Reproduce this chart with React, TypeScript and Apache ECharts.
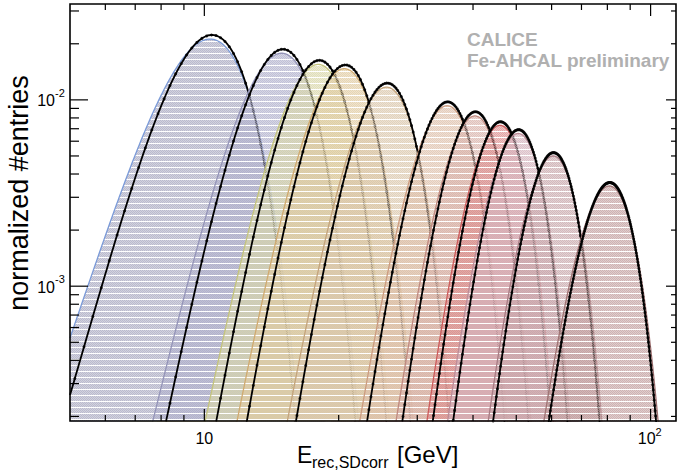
import { useEffect, useRef } from "react";
import * as echarts from "echarts";

// Beam energies (GeV) of the pion runs
const beamEnergies = [10, 15, 18, 20, 25, 35, 40, 45, 50, 60, 80];

// Gaussian fit results: mean (GeV), peak height (normalized entries), sigma (GeV)
const fitMeans = [10.4, 15.0, 18.1, 20.7, 25.7, 35.1, 40.5, 46.1, 50.6, 60.6, 81.0];
const fitPeaks = [0.0223, 0.0187, 0.0163, 0.0154, 0.0123, 0.00976, 0.00863, 0.00763, 0.00692, 0.00521, 0.0036];
const fitSigmas = [1.81, 2.24, 2.5, 2.78, 3.34, 4.25, 4.6, 5.0, 5.4, 6.3, 9.0];

// Filled reference distributions (slightly broader than the fits)
const histMeans = [10.3, 14.9, 18.0, 20.6, 25.6, 35.0, 40.4, 46.0, 50.5, 60.5, 80.8];
const histPeaks = [0.0212, 0.0178, 0.0155, 0.0147, 0.0117, 0.0093, 0.0082, 0.0073, 0.0066, 0.005, 0.00345];
const histSigmas = [1.95, 2.4, 2.68, 2.97, 3.57, 4.55, 4.92, 5.35, 5.78, 6.73, 9.6];

const fillColors = ["#a8a8c0", "#b0b0cc", "#d8d6a8", "#e0caa0", "#dac6aa", "#dec0aa", "#d8b2aa", "#dc8e8e", "#d4b2bc", "#c8a6aa", "#c29e9e"];
const edgeColors = ["#7a9ad8", "#9494b8", "#c4c47c", "#d0aa70", "#c4a47c", "#cc9c80", "#c08a80", "#cc5c5c", "#bc8c98", "#a87c84", "#a07474"];

// Axis ranges and ticks
const X_MIN = 5;
const X_MAX = 114;
const Y_MIN = 1.89e-4;
const Y_MAX = 0.0327;
const xMajorTicks = [10, 100];
const xMinorTicks = [6, 7, 8, 9, 20, 30, 40, 50, 60, 70, 80, 90];
const xTickLabels = ["10", "10"];
const xTickExponents = ["", "2"];
const yMajorTicks = [1e-3, 1e-2];
const yMinorTicks = [2e-4, 3e-4, 4e-4, 5e-4, 6e-4, 7e-4, 8e-4, 9e-4, 2e-3, 3e-3, 4e-3, 5e-3, 6e-3, 7e-3, 8e-3, 9e-3, 2e-2, 3e-2];
const yTickExponents = ["-3", "-2"];

const BIN_WIDTH = 0.25;
const FONT = "'Liberation Sans', Arial, Helvetica, sans-serif";

function gauss(x: number, mean: number, peak: number, sigma: number) {
  const d = (x - mean) / sigma;
  return peak * Math.exp(-0.5 * d * d);
}

function hexToRgba(hex: string, a: number) {
  const n = parseInt(hex.slice(1), 16);
  return `rgba(${(n >> 16) & 255},${(n >> 8) & 255},${n & 255},${a})`;
}

// Dotted fill pattern with a white line every sixth row
function makePattern(hex: string) {
  const c = document.createElement("canvas");
  c.width = 2;
  c.height = 6;
  const ctx = c.getContext("2d")!;
  for (let y = 0; y < 5; y++) {
    for (let x = 0; x < 2; x++) {
      ctx.fillStyle = (x + y) % 2 === 0 ? hexToRgba(hex, 0.78) : hexToRgba(hex, 0.52);
      ctx.fillRect(x, y, 1, 1);
    }
  }
  ctx.fillStyle = "rgba(255,255,255,0.6)";
  ctx.fillRect(0, 5, 2, 1);
  return { image: c, repeat: "repeat" as const };
}

function curve(mean: number, peak: number, sigma: number, step: number) {
  const lo = Math.max(X_MIN, mean - 4.3 * sigma);
  const hi = Math.min(X_MAX, mean + 4.3 * sigma);
  const pts: number[][] = [];
  for (let x = lo; x <= hi + 1e-9; x += step) pts.push([x, gauss(x, mean, peak, sigma)]);
  return pts;
}

function binPoints(mean: number, peak: number, sigma: number) {
  const lo = Math.max(X_MIN, mean - 4.3 * sigma);
  const hi = Math.min(X_MAX, mean + 4.3 * sigma);
  const pts: number[][] = [];
  for (let k = Math.floor(lo / BIN_WIDTH); (k + 0.5) * BIN_WIDTH <= hi; k++) {
    const x = (k + 0.5) * BIN_WIDTH;
    const y = gauss(x, mean, peak, sigma);
    if (x >= X_MIN && y >= Y_MIN) pts.push([x, y]);
  }
  return pts;
}

export default function App() {
  const ref = useRef<HTMLDivElement>(null);

  useEffect(() => {
    if (!ref.current) return;
    const chart = echarts.init(ref.current, undefined, { renderer: "svg" });

    // each energy gets its own z layer so a later fill covers earlier curves
    const series: any[] = [];
    beamEnergies.forEach((e, i) => {
      const z = 2 + i;
      series.push({
        name: `hist ${e} GeV`,
        type: "line",
        z,
        data: curve(histMeans[i], histPeaks[i], histSigmas[i], 0.05),
        showSymbol: false,
        lineStyle: { color: edgeColors[i], width: 1.3 },
        areaStyle: { color: makePattern(fillColors[i]), origin: "start", opacity: 1 },
        silent: true,
      });
      series.push({
        name: `data ${e} GeV`,
        type: "scatter",
        z,
        data: binPoints(fitMeans[i], fitPeaks[i], fitSigmas[i]),
        symbol: "circle",
        symbolSize: 3,
        itemStyle: { color: "#000" },
        silent: true,
      });
      series.push({
        name: `fit ${e} GeV`,
        type: "line",
        z,
        data: curve(fitMeans[i], fitPeaks[i], fitSigmas[i], 0.05),
        showSymbol: false,
        lineStyle: { color: "#000", width: 1.8 },
        silent: true,
      });
    });

    chart.setOption({
      animation: false,
      grid: { left: 70, top: 4, right: 2, bottom: 50, containLabel: false },
      xAxis: {
        type: "log",
        logBase: 10,
        min: X_MIN,
        max: X_MAX,
        axisLine: { show: false },
        axisTick: { show: false },
        axisLabel: { show: false },
        splitLine: { show: false },
      },
      yAxis: {
        type: "log",
        logBase: 10,
        min: Y_MIN,
        max: Y_MAX,
        axisLine: { show: false },
        axisTick: { show: false },
        axisLabel: { show: false },
        splitLine: { show: false },
      },
      series,
    });

    const px = (x: number, y: number) => chart.convertToPixel({ gridIndex: 0 }, [x, y]) as number[];
    const [left, top] = px(X_MIN, Y_MAX);
    const [right, bottom] = px(X_MAX, Y_MIN);
    const g: any[] = [];
    const tick = (x1: number, y1: number, x2: number, y2: number) =>
      g.push({ type: "line", z: 100, shape: { x1, y1, x2, y2 }, style: { stroke: "#000", lineWidth: 1.2 } });

    xMajorTicks.forEach((v) => {
      const x = px(v, Y_MIN)[0];
      tick(x, bottom, x, bottom - 12);
      tick(x, top, x, top + 12);
    });
    xMinorTicks.forEach((v) => {
      const x = px(v, Y_MIN)[0];
      tick(x, bottom, x, bottom - 6);
      tick(x, top, x, top + 6);
    });
    yMajorTicks.forEach((v) => {
      const y = px(X_MIN, v)[1];
      tick(left, y, left + 18, y);
      tick(right, y, right - 10, y);
    });
    yMinorTicks.forEach((v) => {
      const y = px(X_MIN, v)[1];
      tick(left, y, left + 9, y);
      tick(right, y, right - 5, y);
    });

    // frame
    g.push({
      type: "rect",
      z: 101,
      shape: { x: left, y: top, width: right - left, height: bottom - top },
      style: { fill: "none", stroke: "#000", lineWidth: 1.6 },
    });

    // x tick labels
    xMajorTicks.forEach((v, i) => {
      const x = px(v, Y_MIN)[0];
      const hasExp = xTickExponents[i] !== "";
      g.push({
        type: "text",
        z: 102,
        x: hasExp ? x + 5 : x,
        y: bottom + 17,
        style: { text: xTickLabels[i], font: `16px ${FONT}`, fill: "#000", align: hasExp ? "right" : "center", verticalAlign: "middle" },
      });
      if (hasExp) {
        g.push({
          type: "text",
          z: 102,
          x: x + 5,
          y: bottom + 11,
          style: { text: xTickExponents[i], font: `11px ${FONT}`, fill: "#000", align: "left", verticalAlign: "middle" },
        });
      }
    });

    // y tick labels
    yMajorTicks.forEach((v, i) => {
      const y = px(X_MIN, v)[1];
      g.push({
        type: "text",
        z: 102,
        x: left - 15,
        y: y + 1,
        style: { text: "10", font: `16px ${FONT}`, fill: "#000", align: "right", verticalAlign: "middle" },
      });
      g.push({
        type: "text",
        z: 102,
        x: left - 15,
        y: y - 7,
        style: { text: yTickExponents[i], font: `11px ${FONT}`, fill: "#000", align: "left", verticalAlign: "middle" },
      });
    });

    // axis titles
    g.push({
      type: "text",
      z: 102,
      x: 297,
      y: 455,
      style: { text: "E", font: `23px ${FONT}`, fill: "#000", align: "left", verticalAlign: "middle" },
    });
    g.push({
      type: "text",
      z: 102,
      x: 312,
      y: 462,
      style: { text: "rec,SDcorr", font: `16px ${FONT}`, fill: "#000", align: "left", verticalAlign: "middle" },
    });
    g.push({
      type: "text",
      z: 102,
      x: 397,
      y: 454,
      style: { text: "[GeV]", font: `24px ${FONT}`, fill: "#000", align: "left", verticalAlign: "middle" },
    });
    g.push({
      type: "text",
      z: 102,
      x: 19,
      y: 193,
      rotation: Math.PI / 2,
      style: { text: "normalized #entries", font: `27px ${FONT}`, fill: "#000", align: "center", verticalAlign: "middle" },
    });

    // collaboration label
    g.push({
      type: "text",
      z: 102,
      x: 467,
      y: 39,
      style: { text: "CALICE", font: `bold 19px ${FONT}`, fill: "#b0b0b0", align: "left", verticalAlign: "middle" },
    });
    g.push({
      type: "text",
      z: 102,
      x: 467,
      y: 60,
      style: { text: "Fe-AHCAL preliminary", font: `bold 19px ${FONT}`, fill: "#b0b0b0", align: "left", verticalAlign: "middle" },
    });

    chart.setOption({ graphic: g });

    return () => chart.dispose();
  }, []);

  return (
    <div style={{ position: "fixed", left: 0, top: 0, width: 678, height: 471, background: "#fff" }}>
      <div ref={ref} style={{ width: 678, height: 471 }} />
    </div>
  );
}
